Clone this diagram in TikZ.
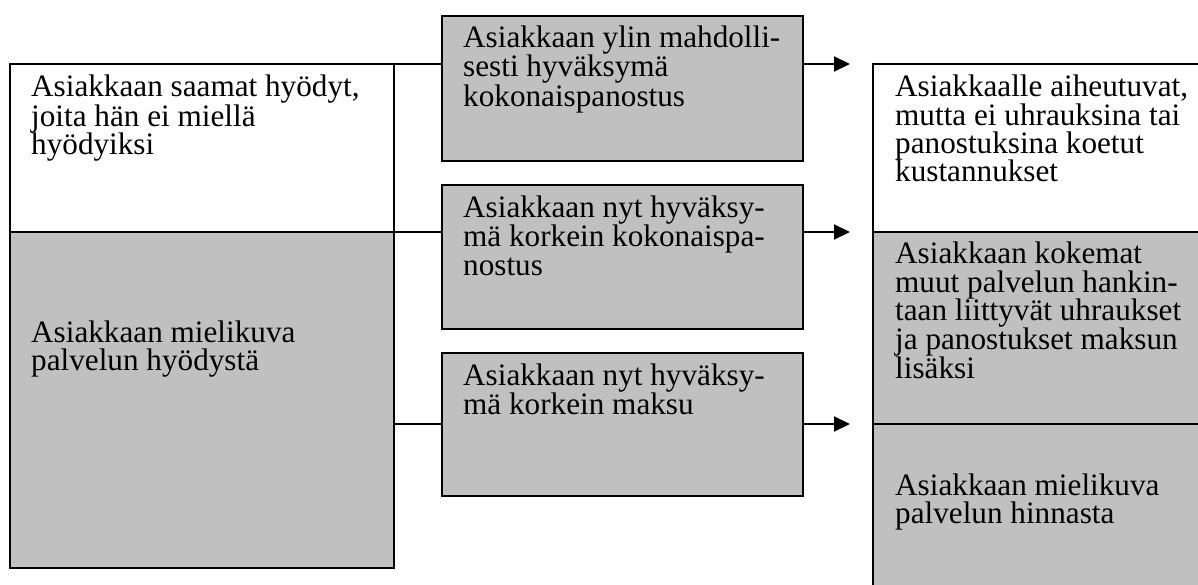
\documentclass[tikz,border=0pt]{standalone}
\usepackage{fontspec}
\setmainfont{Liberation Serif}
\usetikzlibrary{arrows.meta}
\definecolor{boxgray}{RGB}{192,192,192}
\begin{document}
\begin{tikzpicture}[x=1pt,y=-1pt,
  panel/.style={draw=black,line width=2pt,inner sep=0pt,outer sep=0pt,anchor=north west},
  white panel/.style={panel,fill=white},
  gray panel/.style={panel,fill=boxgray},
  % base anchor of a multi-line node is the baseline of its last line
  boxtext/.style={anchor=base west,align=left,inner sep=0pt,
    font=\fontsize{31.2}{28.3}\selectfont},
  link/.style={line width=2pt},
  flow/.style={line width=2pt,-{Triangle[length=16pt,width=15pt]}}]
\useasboundingbox (0,0) rectangle (1198,585);
\begin{scope}
\clip (0,0) rectangle (1198,585);
% left column: benefits
\node[white panel,minimum width=384pt,minimum height=168pt] (lt) at (10,64) {};
\node[gray panel,minimum width=384pt,minimum height=336pt] (lb) at (10,232) {};
% middle column: accepted sacrifice levels
\node[gray panel,minimum width=361pt,minimum height=145pt] (m1) at (442,16) {};
\node[gray panel,minimum width=361pt,minimum height=144pt] (m2) at (442,185) {};
\node[gray panel,minimum width=361pt,minimum height=143pt] (m3) at (442,353) {};
% right column: costs
\node[white panel,minimum width=340pt,minimum height=168pt] (r1) at (873,64) {};
\node[gray panel,minimum width=340pt,minimum height=192pt] (r2) at (873,232) {};
\node[gray panel,minimum width=340pt,minimum height=180pt] (r3) at (873,424) {};

% texts
\node[boxtext] (lt-t) at ([shift={(21,90.6)}]lt.north west)
  {Asiakkaan saamat hyödyt,\\joita hän ei miellä\\hyödyiksi};
\node[boxtext] (lb-t) at ([shift={(21,138.3)}]lb.north west)
  {Asiakkaan mielikuva\\palvelun hyödystä};
\node[boxtext] (m1-t) at ([shift={(21,90.1)}]m1.north west)
  {Asiakkaan ylin mahdolli-\\sesti hyväksymä\\kokonaispanostus};
\node[boxtext] (m2-t) at ([shift={(21,90.1)}]m2.north west)
  {Asiakkaan nyt hyväksy-\\mä korkein kokonaispa-\\nostus};
\node[boxtext] (m3-t) at ([shift={(21,61.8)}]m3.north west)
  {Asiakkaan nyt hyväksy-\\mä korkein maksu};
\node[boxtext] (r1-t) at ([shift={(22,117.9)}]r1.north west)
  {Asiakkaalle aiheutuvat,\\mutta ei uhrauksina tai\\panostuksina koetut\\kustannukset};
\node[boxtext] (r2-t) at ([shift={(22,146.2)}]r2.north west)
  {Asiakkaan kokemat\\muut palvelun hankin-\\taan liittyvät uhraukset\\ja panostukset maksun\\lisäksi};
\node[boxtext] (r3-t) at ([shift={(22,99.3)}]r3.north west)
  {Asiakkaan mielikuva\\palvelun hinnasta};

% connectors
\draw[link] (lt.north east) -- (lt.north east -| m1.west);
\draw[flow] (lt.north east -| m1.east) -- ([xshift=-23pt]r1.north west);
\draw[link] (lt.south east) -- (lt.south east -| m2.west);
\draw[flow] (lt.south east -| m2.east) -- ([xshift=-23pt]r2.north west);
\draw[link] (r3.north west -| lb.east) -- (r3.north west -| m3.west);
\draw[flow] (r3.north west -| m3.east) -- ([xshift=-23pt]r3.north west);
\end{scope}
\end{tikzpicture}
\end{document}
